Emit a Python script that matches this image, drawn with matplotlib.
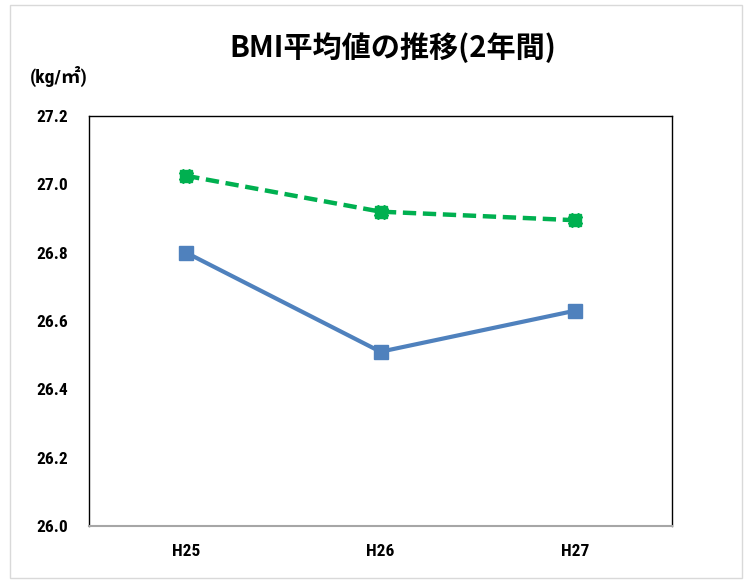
import matplotlib
matplotlib.use("Agg")
import matplotlib.pyplot as plt
from matplotlib.patches import Rectangle
from matplotlib import font_manager

categories = ["H25", "H26", "H27"]
series_blue = [26.80, 26.51, 26.63]
series_green = [27.025, 26.92, 26.895]
yticks = [26.0, 26.2, 26.4, 26.6, 26.8, 27.0, 27.2]

names = {f.name for f in font_manager.fontManager.ttflist}
narrow = "DejaVu Sans"
for cand in ["Liberation Sans Narrow", "Roboto Condensed", "Open Sans Condensed", "Noto Sans"]:
    if cand in names:
        narrow = cand
        break

W, H = 749, 581
fig = plt.figure(figsize=(W / 100, H / 100), dpi=100)
fig.patch.set_facecolor("white")

fig.patches.append(Rectangle((10 / W, 3 / H), 732 / W, 573 / H, transform=fig.transFigure,
                             fill=False, edgecolor="#d9d9d9", linewidth=1.0))

ax = fig.add_axes([89 / W, 1 - 526 / H, (672 - 89) / W, (526 - 116) / H])
x = list(range(len(categories)))
ax.plot(x, series_blue, color="#4f81bd", linewidth=3, marker="s", markersize=10,
        markeredgecolor="#4f81bd", markerfacecolor="#4f81bd", zorder=3)
ax.plot(x, series_green, color="#00b050", linewidth=3.2, linestyle=(0, (3, 1.5)), marker="s",
        markersize=9, markeredgecolor="#00b050", markerfacecolor="#00b050", zorder=3)
ax.plot(x, series_green, linestyle="none", marker="X", markersize=10,
        markeredgecolor="#00b050", markerfacecolor="#00b050", zorder=3)

ax.set_xlim(-0.5, 2.5)
ax.set_ylim(26.0, 27.2)
ax.set_xticks(x)
ax.set_xticklabels(categories)
ax.set_yticks(yticks)
ax.set_yticklabels([f"{v:.1f}" for v in yticks])
for sp in ["left", "right", "top"]:
    ax.spines[sp].set_color("black")
    ax.spines[sp].set_linewidth(1.0)
ax.spines["bottom"].set_color("#a6a6a6")
ax.spines["bottom"].set_linewidth(1.5)
ax.tick_params(length=0, labelsize=12.5)
ax.tick_params(axis="x", pad=13)
ax.tick_params(axis="y", pad=15)
for lab in ax.get_xticklabels() + ax.get_yticklabels():
    lab.set_fontweight("bold")
    lab.set_family([narrow, "DejaVu Sans"])

fig.text(393 / W, 1 - 48 / H, "BMI平均値の推移(2年間)", ha="center", va="center",
         fontsize=21, fontweight="bold", family=["Noto Sans CJK JP", "DejaVu Sans"])
fig.text(30 / W, 1 - 76 / H, "(kg/㎡)", ha="left", va="center", fontsize=14,
         fontweight="bold", family=[narrow, "Noto Sans CJK JP", "DejaVu Sans"])

fig.savefig("out.png", dpi=100, facecolor="white")
